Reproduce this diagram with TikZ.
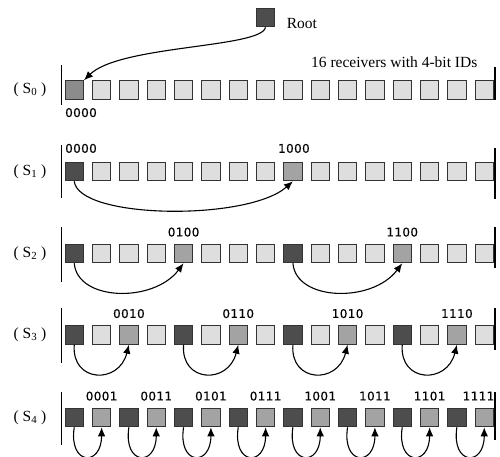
\documentclass[tikz,border=0pt]{standalone}
\usepackage{fontspec}
\setmainfont{Liberation Serif}
\newfontfamily\idfont[LetterSpace=3,FakeBold=0.4]{DejaVu Sans}
\usetikzlibrary{arrows.meta}
\definecolor{srcC}{HTML}{4D4D4D}
\definecolor{tgtC}{HTML}{A3A3A3}
\definecolor{ltC}{HTML}{DEDEDE}
\definecolor{midC}{HTML}{8C8C8C}
\begin{document}
\begin{tikzpicture}[x=1pt,y=-1pt,
  sq/.style={draw=black!80,line width=1pt,minimum size=18.5pt,inner sep=0pt},
  src/.style={fill=srcC},
  tgt/.style={fill=tgtC},
  lt/.style={fill=ltC},
  mid/.style={fill=midC},
  arr/.style={line width=1.1pt,-{Latex[length=9pt,width=7.5pt]}},
  bar/.style={line width=1.4pt},
  idl/.style={inner sep=0pt,font=\idfont\fontsize{12}{14}\selectfont},
  serif/.style={inner sep=0pt,font=\fontsize{15.5}{18}\selectfont}]
\useasboundingbox (0,0) rectangle (500,456);
% squares
\foreach \r/\yy in {0/90,1/171.5,2/253.5,3/335,4/417.5} {
  \pgfmathtruncatemacro\b{16/2^(\r-1)}
  \pgfmathtruncatemacro\h{\b/2}
  \foreach \i in {0,...,15} {
    \pgfmathtruncatemacro\m{mod(\i,\b)}
    \ifnum\m=0
      \ifnum\r=0 \def\st{mid}\else\def\st{src}\fi
    \else
      \ifnum\m=\h \def\st{tgt}\else\def\st{lt}\fi
    \fi
    \node[sq,\st] (s\r-\i) at ({74.25+27.333*\i},\yy) {};
  }
}
% bars
\draw[bar] (61.7,65) -- (61.7,105);
\draw[bar] (495,67) -- (495,100);
\draw[bar] (61.7,145) -- (61.7,198);
\draw[bar] (495,148) -- (495,199);
\draw[bar] (61.7,227) -- (61.7,282);
\draw[bar] (495,227) -- (495,268);
\draw[bar] (61.7,308) -- (61.7,363);
\draw[bar] (495,308) -- (495,350);
\draw[bar] (61.7,392) -- (61.7,445);
\draw[bar] (495,392) -- (495,440);
% row labels
\node[serif] (l0) at (30,90) {( S\textsubscript{0} )};
\node[serif] (l1) at (30,171.5) {( S\textsubscript{1} )};
\node[serif] (l2) at (30,253.5) {( S\textsubscript{2} )};
\node[serif] (l3) at (30,335) {( S\textsubscript{3} )};
\node[serif] (l4) at (30,417.5) {( S\textsubscript{4} )};
% root
\node[sq,src] (root) at (265.5,17.5) {};
\node[serif,anchor=base west] (roottxt) at (286.7,28.3) {Root};
\node[serif,anchor=base east] (recv) at (477.5,67.7) {16 receivers with 4-bit IDs};
\draw[arr] (root.south) .. controls (262,48) and (120,45) .. (s0-0.north east);
% ID labels
\node[idl,anchor=base west] (id0) at (65,117) {0000};
\path (s1-0.north west) ++(0.5,-9) node[idl,anchor=base west] (id1a) {0000};
\path (s1-8.north) ++(1,-9) node[idl,anchor=base] (id1b) {1000};
\foreach \j/\t in {4/0100,12/1100} {
  \path (s2-\j.north) ++(0,-7.3) node[idl,anchor=base] (id2-\j) {\t};
}
\foreach \j/\t in {2/0010,6/0110,10/1010,14/1110} {
  \path (s3-\j.north) ++(0,-7.3) node[idl,anchor=base] (id3-\j) {\t};
}
\foreach \j/\t in {1/0001,3/0011,5/0101,7/0111,9/1001,11/1011,13/1101} {
  \path (s4-\j.north) ++(0,-7.3) node[idl,anchor=base] (id4-\j) {\t};
}
\path (s4-15.north east) ++(0.5,-7.3) node[idl,anchor=base east] (id4-15) {1111};
% arrows
\foreach \r/\ca/\cb in {1/4/-45, 2/3/-30, 3/-3/-10, 4/-6/0} {
  \pgfmathtruncatemacro\b{16/2^(\r-1)}
  \pgfmathtruncatemacro\h{\b/2}
  \pgfmathtruncatemacro\n{2^(\r-1)-1}
  \foreach \k in {0,...,\n} {
    \pgfmathtruncatemacro\i{\k*\b}
    \pgfmathtruncatemacro\j{\i+\h}
    \draw[arr] (s\r-\i.south) .. controls +(\ca,38) and +(\cb,40) .. (s\r-\j.south);
  }
}
\end{tikzpicture}
\end{document}
